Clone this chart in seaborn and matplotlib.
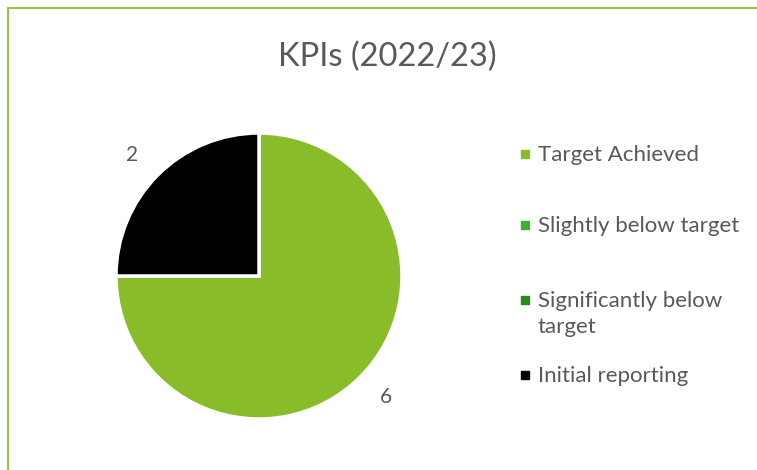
import matplotlib
matplotlib.use("Agg")
import matplotlib.pyplot as plt
import seaborn as sns
from matplotlib.lines import Line2D
from matplotlib.patches import Rectangle

sns.set_theme(style="white")
plt.rcParams['font.family'] = ['Lato', 'DejaVu Sans']

# data
categories = ["Target Achieved", "Slightly below target",
              "Significantly below\ntarget", "Initial reporting"]
counts = [6, 0, 0, 2]
colors = ["#88BD29", "#3FAE34", "#2A8A1D", "#000000"]
title = "KPIs (2022/23)"
text_col = "#595959"

W, H = 757, 470
fig = plt.figure(figsize=(W / 100, H / 100), dpi=100)

# green frame (cut off at right and bottom like the screenshot)
fig.patches.append(Rectangle((8 / W, -0.1), 1.2, (H - 8) / H + 0.1,
                             transform=fig.transFigure, fill=False,
                             edgecolor="#92C83E", linewidth=1.5))

# pie axes: centre ~ (259, 276) px, radius ~143 px
cx, cy, r = 259, 276, 143
ax = fig.add_axes([(cx - r) / W, (H - cy - r) / H, 2 * r / W, 2 * r / H])

nz = [(c, v, col) for c, v, col in zip(categories, counts, colors) if v > 0]
wedges, texts = ax.pie([v for _, v, _ in nz],
                       colors=[col for _, _, col in nz],
                       labels=[str(v) for _, v, _ in nz],
                       startangle=90, counterclock=False,
                       labeldistance=1.2,
                       wedgeprops=dict(edgecolor="white", linewidth=2.5),
                       textprops=dict(color=text_col, fontsize=15))
ax.set_xlim(-1, 1)
ax.set_ylim(-1, 1)

fig.text(387 / W, 1 - 57 / H, title, ha="center", va="center",
         fontsize=23.5, color=text_col)

# legend, laid out like the Excel one (wrapped entry keeps marker on line 1)
leg_y = [154, 225, 300, 375]
for cat, col, y in zip(categories, colors, leg_y):
    fig.add_artist(Line2D([525 / W], [1 - y / H], transform=fig.transFigure,
                          marker="s", linestyle="none", markersize=6,
                          markerfacecolor=col, markeredgecolor=col))
    fig.text(538 / W, 1 - (y - 9) / H, cat, ha="left", va="top",
             fontsize=16, color=text_col, linespacing=1.4)

fig.savefig("out.png", dpi=100, facecolor="white")
